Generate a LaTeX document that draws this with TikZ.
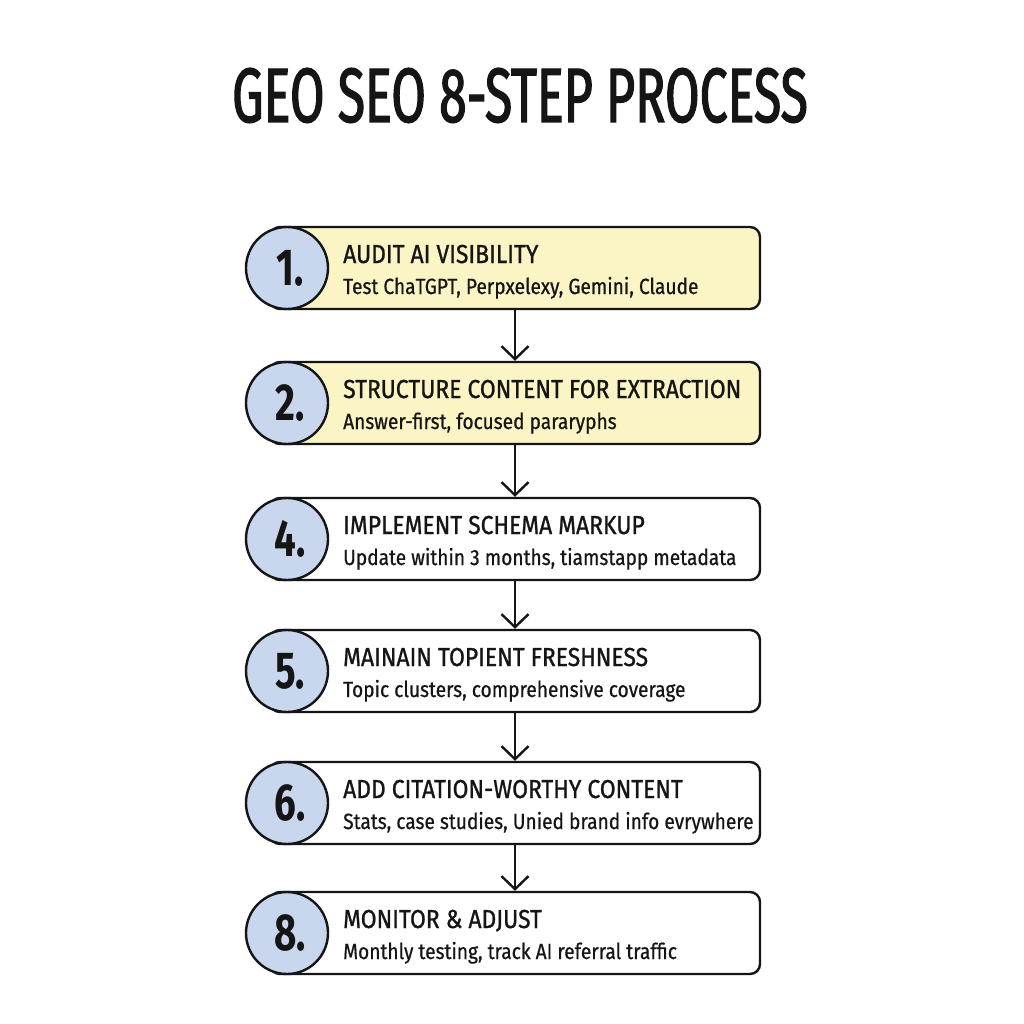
\documentclass[tikz,border=0pt]{standalone}
\usepackage{fontspec}
\setmainfont{Fira Sans}
\newfontfamily\titlefont[FakeStretch=0.65,FakeBold=1.6]{Fira Sans}
\newfontfamily\headfont[FakeStretch=0.88,FakeBold=1.0]{Fira Sans}
\newfontfamily\subfont[FakeStretch=0.87,FakeBold=0.6]{Fira Sans}
\newfontfamily\numfont[FakeStretch=0.74]{Fira Sans}
\usetikzlibrary{arrows.meta}
\definecolor{ink}{HTML}{151515}
\definecolor{boxyellow}{HTML}{FBF4C4}
\definecolor{circblue}{HTML}{C8D6EE}
\tikzset{
  stepbox/.style={draw=ink, line width=2.4pt, rounded corners=10pt, minimum width=490pt, minimum height=82pt, inner sep=0pt},
  yellowbox/.style={stepbox, fill=boxyellow},
  whitebox/.style={stepbox, fill=white},
  numcirc/.style={circle, draw=ink, line width=2.4pt, fill=circblue, minimum size=82pt, inner sep=0pt},
  numtext/.style={font=\numfont\bfseries\fontsize{52}{52}\selectfont, text=ink, anchor=base, inner sep=0pt},
  headtext/.style={font=\headfont\fontsize{26}{26}\selectfont, text=ink, anchor=base west, inner sep=0pt},
  subtext/.style={font=\subfont\fontsize{22}{22}\selectfont, text=ink, anchor=base west, inner sep=0pt},
  flow/.style={draw=ink, line width=2.4pt, -{Straight Barb[length=13pt,width=27pt,line width=2.4pt]}}
}
\begin{document}
\begin{tikzpicture}[x=1pt,y=-1pt]
\useasboundingbox[fill=white] (0,0) rectangle (1024,1024);
\node[font=\titlefont\fontsize{77}{77}\selectfont, text=ink, anchor=base, inner sep=0pt] (title) at (520,122) {GEO SEO 8-STEP PROCESS};
% steps
\foreach \i/\y/\n/\st/\hd/\sb in {
  1/268/1./yellowbox/AUDIT AI VISIBILITY/{Test ChaTGPT, Perpxelexy, Gemini, Claude},
  2/403/2./yellowbox/STRUCTURE CONTENT FOR EXTRACTION/{Answer-first, focused pararyphs},
  3/539/4./whitebox/IMPLEMENT SCHEMA MARKUP/{Update within 3 months, tiamstapp metadata},
  4/671/5./whitebox/MAINAIN TOPIENT FRESHNESS/{Topic clusters, comprehensive coverage},
  5/803/6./whitebox/ADD CITATION-WORTHY CONTENT/{Stats, case studies, Unied brand info evrywhere},
  6/933/8./whitebox/MONITOR \& ADJUST/{Monthly testing, track AI referral traffic}}{
  \node[\st] (b\i) at (515,\y) {};
  \node[numcirc] (c\i) at (287,\y) {};
  \node[numtext] (n\i) at (290,\y+17) {\n};
  \node[headtext] (h\i) at (343,\y-5) {\hd};
  \node[subtext] (s\i) at (343,\y+26) {\sb};
}
\foreach \a/\b in {1/2,2/3,3/4,4/5,5/6}{
  \draw[flow] (b\a.south) -- (b\b.north);
}
\end{tikzpicture}
\end{document}
